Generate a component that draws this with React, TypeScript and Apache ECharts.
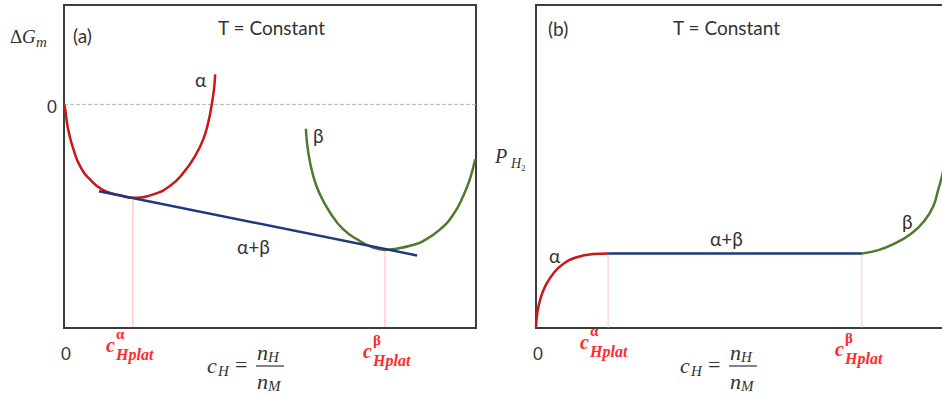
import React, { useEffect, useRef } from "react";
import * as echarts from "echarts";

// ---- Panel (a): Gibbs energy of mixing vs composition ----
const alphaG: [number, number][] = [
  [0, 0], [0.002, -0.023], [0.01, -0.25], [0.023, -0.453], [0.039, -0.621], [0.063, -0.755],
  [0.095, -0.862], [0.136, -0.915], [0.167, -0.94], [0.217, -0.905], [0.257, -0.822],
  [0.29, -0.687], [0.318, -0.52], [0.338, -0.352], [0.35, -0.184], [0.358, -0.017],
  [0.364, 0.151], [0.367, 0.302],
];
const betaG: [number, number][] = [
  [0.587, -0.245], [0.593, -0.486], [0.605, -0.721], [0.621, -0.905], [0.646, -1.09],
  [0.678, -1.258], [0.718, -1.375], [0.75, -1.44], [0.779, -1.464], [0.81, -1.45],
  [0.842, -1.42], [0.872, -1.375], [0.913, -1.258], [0.945, -1.107], [0.969, -0.922],
  [0.985, -0.755], [0.998, -0.553],
];
const tangentG: [number, number][] = [[0.085, -0.875], [0.857, -1.52]];
const zeroG: [number, number][] = [[0, 0], [1, 0]];
const plateauA = { alpha: 0.167, beta: 0.779 };
const tangentYAtPlat = { alpha: -0.94, beta: -1.464 };
const gMin = -2.25;
const gMax = 1.0;

// ---- Panel (b): pressure-composition isotherm ----
const alphaP: [number, number][] = [
  [0, 0], [0.003, 0.045], [0.01, 0.087], [0.022, 0.128], [0.042, 0.169],
  [0.066, 0.198], [0.099, 0.219], [0.139, 0.229], [0.175, 0.231],
];
const plateauP: [number, number][] = [[0.175, 0.231], [0.791, 0.231]];
const betaP: [number, number][] = [
  [0.791, 0.231], [0.831, 0.241], [0.871, 0.262], [0.912, 0.293], [0.944, 0.334],
  [0.964, 0.376], [0.976, 0.427], [0.985, 0.468], [0.998, 0.551],
];
const plateauB = { alpha: 0.175, beta: 0.791 };
const pPlat = 0.231;

const RED = "#c9161c";
const GREEN = "#4e7a2c";
const BLUE = "#1f3a78";
const DOT = "#ff8a8a";
const LABEL_RED = "#ff2a2a";
const TXT = "#333333";

const SANS = "Lato";
const MATH = "'Liberation Serif'";

function t(x: number, y: number, text: string, font: string, fill = TXT, align = "left") {
  return {
    type: "text",
    x,
    y,
    silent: true,
    style: { text, font, fill, textAlign: align, textVerticalAlign: "middle" },
  };
}

// c^{phase}_{Hplat}; y = centre of the "c"
function platLabel(x: number, y: number, sup: string) {
  return [
    t(x, y, "c", `bold italic 20px ${MATH}`, LABEL_RED),
    t(x + 10, y - 11, sup, `bold 15px ${MATH}`, LABEL_RED),
    t(x + 10, y + 9, "Hplat", `bold italic 16px ${MATH}`, LABEL_RED),
  ];
}

function axisTitle(x: number, y: number) {
  return [
    t(x, y, "c", `italic 22px ${MATH}`, TXT),
    t(x + 11, y + 6, "H", `italic 15px ${MATH}`, TXT),
    t(x + 28, y - 1, "=", `22px ${MATH}`, TXT),
    t(x + 50, y - 13, "n", `italic 22px ${MATH}`, TXT),
    t(x + 61, y - 8, "H", `italic 15px ${MATH}`, TXT),
    { type: "line", silent: true, shape: { x1: x + 49, y1: y + 1, x2: x + 77, y2: y + 1 }, style: { stroke: TXT, lineWidth: 1.2 } },
    t(x + 50, y + 16, "n", `italic 22px ${MATH}`, TXT),
    t(x + 61, y + 21, "M", `italic 15px ${MATH}`, TXT),
  ];
}

export default function App() {
  const ref = useRef<HTMLDivElement>(null);
  useEffect(() => {
    document.body.style.margin = "0";
    if (!ref.current) return;
    const chart = echarts.init(ref.current, null, { renderer: "svg" });
    const hiddenAxis = {
      type: "value",
      axisLine: { show: false },
      axisTick: { show: false },
      axisLabel: { show: false },
      splitLine: { show: false },
    };
    const curve = (name: string, data: [number, number][], color: string, idx: number, smooth: boolean | number = 0.5) => ({
      name,
      type: "line",
      xAxisIndex: idx,
      yAxisIndex: idx,
      data,
      smooth,
      symbol: "none",
      lineStyle: { color, width: 2.5 },
      silent: true,
      z: 3,
    });
    const guide = (name: string, data: [number, number][], color: string, idx: number, type: string) => ({
      name,
      type: "line",
      xAxisIndex: idx,
      yAxisIndex: idx,
      data,
      symbol: "none",
      lineStyle: { color, width: 1, type },
      silent: true,
      z: 2,
    });
    const gridBase = {
      top: 5,
      height: 323,
      show: true,
      borderColor: "#3c3c3c",
      borderWidth: 2,
      backgroundColor: "transparent",
      containLabel: false,
      outerBoundsMode: "none",
    };
    chart.setOption({
      animation: false,
      grid: [
        { ...gridBase, left: 64, width: 412 },
        { ...gridBase, left: 536, width: 428 },
      ],
      xAxis: [
        { ...hiddenAxis, gridIndex: 0, min: 0, max: 1 },
        { ...hiddenAxis, gridIndex: 1, min: 0, max: 428 / 412 },
      ],
      yAxis: [
        { ...hiddenAxis, gridIndex: 0, min: gMin, max: gMax },
        { ...hiddenAxis, gridIndex: 1, min: 0, max: 1 },
      ],
      series: [
        guide("zero", zeroG, "#b4b4b4", 0, "dashed"),
        guide("platA-a", [[plateauA.alpha, tangentYAtPlat.alpha], [plateauA.alpha, gMin]], DOT, 0, "dotted"),
        guide("platA-b", [[plateauA.beta, tangentYAtPlat.beta], [plateauA.beta, gMin]], DOT, 0, "dotted"),
        curve("alphaG", alphaG, RED, 0),
        curve("betaG", betaG, GREEN, 0),
        curve("tangent", tangentG, BLUE, 0, false),
        guide("platB-a", [[plateauB.alpha, pPlat], [plateauB.alpha, 0]], DOT, 1, "dotted"),
        guide("platB-b", [[plateauB.beta, pPlat], [plateauB.beta, 0]], DOT, 1, "dotted"),
        curve("alphaP", alphaP, RED, 1),
        curve("plateau", plateauP, BLUE, 1, false),
        curve("betaP", betaP, GREEN, 1),
      ],
      graphic: [
        // panel (a)
        t(10, 36, "Δ", `19px ${MATH}`, TXT),
        t(22, 36, "G", `italic 19px ${MATH}`, TXT),
        t(36, 42, "m", `italic 15px ${MATH}`, TXT),
        t(73, 35, "(a)", `19px ${SANS}`),
        t(218, 27, "T = Constant", `19px ${SANS}`),
        t(47, 106, "0", `17px ${SANS}`),
        t(61, 353, "0", `17px ${SANS}`),
        t(195, 79, "α", `19px ${SANS}`),
        t(313, 135, "β", `19px ${SANS}`),
        t(237, 246, "α+β", `19px ${SANS}`),
        ...platLabel(106, 345, "α"),
        ...platLabel(363, 351, "β"),
        ...axisTitle(207, 365),
        // panel (b)
        t(495, 156, "P", `italic 20px ${MATH}`, TXT),
        t(511, 163, "H", `italic 14px ${MATH}`, TXT),
        t(521, 168, "2", `9px ${MATH}`, TXT),
        t(548, 28, "(b)", `19px ${SANS}`),
        t(673, 27, "T = Constant", `19px ${SANS}`),
        t(533, 353, "0", `17px ${SANS}`),
        t(549, 255, "α", `19px ${SANS}`),
        t(710, 238, "α+β", `19px ${SANS}`),
        t(902, 221, "β", `19px ${SANS}`),
        ...platLabel(580, 342, "α"),
        ...platLabel(835, 349, "β"),
        ...axisTitle(680, 365),
      ],
    });
    return () => chart.dispose();
  }, []);
  return <div ref={ref} style={{ width: 942, height: 397 }} />;
}
